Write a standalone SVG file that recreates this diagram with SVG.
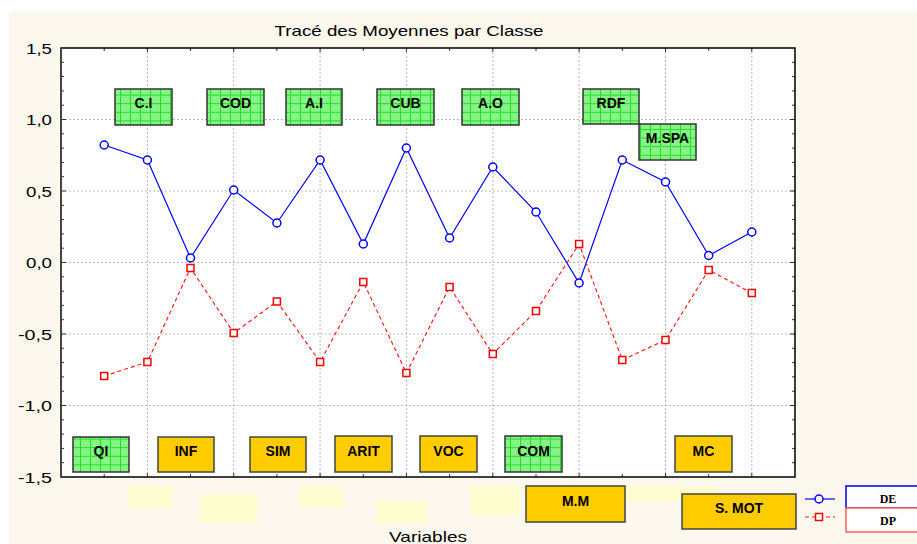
<svg xmlns="http://www.w3.org/2000/svg" width="917" height="544" viewBox="0 0 917 544">
<defs>
<pattern id="gp" x="0" y="0" width="10" height="8.6" patternUnits="userSpaceOnUse">
<rect width="10" height="8.6" fill="#86f386"/>
<rect x="1" y="1" width="1" height="1" fill="#a6f8a6"/>
<rect x="5" y="4" width="1" height="1" fill="#a6f8a6"/>
<path d="M0 0.5H10 M0.5 0V8.6" stroke="#22dd22" stroke-width="1"/>
</pattern>
</defs>
<style>
.ax{stroke:#000;stroke-width:1.5;fill:none}
.tk{stroke:#333;stroke-width:1;fill:none}
.grid{stroke:#b8b8b8;stroke-width:1;stroke-dasharray:2 2;fill:none}
.de{stroke:#0000ff;stroke-width:1.2;fill:none}
.dp{stroke:#ff2020;stroke-width:1.2;stroke-dasharray:4 3;fill:none}
.c{fill:#fff;stroke:#0000ff;stroke-width:1.5}
.s{fill:#fff;stroke:#ff0000;stroke-width:1.5}
.gb{fill:url(#gp);stroke:#333;stroke-width:1.5}
.yb{fill:#ffcc00;stroke:#444;stroke-width:1.5}
.pale{fill:#fdfdcf}
.bt{font-family:"Liberation Sans",Arial,sans-serif;font-weight:bold;font-size:14px;text-anchor:middle;fill:#000}
.yl{font-family:"Liberation Sans",Arial,sans-serif;font-size:14px;text-anchor:end;fill:#000}
.lg{font-family:"Liberation Serif","Times New Roman",serif;font-weight:bold;font-size:12px;text-anchor:middle;fill:#000}
</style>
<rect x="0" y="0" width="917" height="544" fill="#fff"/>
<rect x="9" y="11" width="908" height="533" fill="#fdf8ee"/>
<rect x="61" y="48" width="734" height="429" fill="#fff"/>

<text x="409" y="36" font-family="Liberation Sans, Arial, sans-serif" font-size="15" text-anchor="middle" textLength="269" lengthAdjust="spacingAndGlyphs">Tracé des Moyennes par Classe</text>

<g id="grid">
<path class="grid" d="M61 119.5H795 M61 191H795 M61 262.5H795 M61 334H795 M61 405.5H795"/>
<path class="grid" d="M147.4 48V477 M233.7 48V477 M320.1 48V477 M406.4 48V477 M492.8 48V477 M579.1 48V477 M665.5 48V477 M751.8 48V477"/>
</g>

<g id="ticks">
<path class="tk" d="M61 62.3h3M61 76.6h3M61 90.9h3M61 105.2h3M61 119.5h5M61 133.8h3M61 148.1h3M61 162.4h3M61 176.7h3M61 191h5M61 205.3h3M61 219.6h3M61 233.9h3M61 248.2h3M61 262.5h5M61 276.8h3M61 291.1h3M61 305.4h3M61 319.7h3M61 334h5M61 348.3h3M61 362.6h3M61 376.9h3M61 391.2h3M61 405.5h5M61 419.8h3M61 434.1h3M61 448.4h3M61 462.7h3"/>
<path class="tk" d="M795 62.3h-3M795 76.6h-3M795 90.9h-3M795 105.2h-3M795 119.5h-5M795 133.8h-3M795 148.1h-3M795 162.4h-3M795 176.7h-3M795 191h-5M795 205.3h-3M795 219.6h-3M795 233.9h-3M795 248.2h-3M795 262.5h-5M795 276.8h-3M795 291.1h-3M795 305.4h-3M795 319.7h-3M795 334h-5M795 348.3h-3M795 362.6h-3M795 376.9h-3M795 391.2h-3M795 405.5h-5M795 419.8h-3M795 434.1h-3M795 448.4h-3M795 462.7h-3"/>
<path class="tk" d="M104.2 48v3M147.4 48v4M190.5 48v3M233.7 48v4M276.9 48v3M320.1 48v4M363.3 48v3M406.4 48v4M449.6 48v3M492.8 48v4M536 48v3M579.1 48v4M622.3 48v3M665.5 48v4M708.7 48v3M751.8 48v4"/>
<path class="tk" d="M104.2 477v-3M147.4 477v-4M190.5 477v-3M233.7 477v-4M276.9 477v-3M320.1 477v-4M363.3 477v-3M406.4 477v-4M449.6 477v-3M492.8 477v-4M536 477v-3M579.1 477v-4M622.3 477v-3M665.5 477v-4M708.7 477v-3M751.8 477v-4"/>
</g>
<rect class="ax" x="61" y="48" width="734" height="429"/>
<path d="M61 48V477" stroke="#444" stroke-width="2"/>

<g id="ylabels">
<text class="yl" x="52" y="54" textLength="26" lengthAdjust="spacingAndGlyphs">1,5</text>
<text class="yl" x="52" y="125" textLength="26" lengthAdjust="spacingAndGlyphs">1,0</text>
<text class="yl" x="52" y="197" textLength="26" lengthAdjust="spacingAndGlyphs">0,5</text>
<text class="yl" x="52" y="268" textLength="26" lengthAdjust="spacingAndGlyphs">0,0</text>
<text class="yl" x="52" y="340" textLength="34" lengthAdjust="spacingAndGlyphs">-0,5</text>
<text class="yl" x="52" y="411" textLength="34" lengthAdjust="spacingAndGlyphs">-1,0</text>
<text class="yl" x="52" y="483" textLength="34" lengthAdjust="spacingAndGlyphs">-1,5</text>
</g>

<g id="connectors">
<polyline class="de" points="104.2,145 147.4,160 190.5,258 233.7,190 276.9,223 320.1,160 363.3,244 406.4,148 449.6,238 492.8,167 536,212 579.1,283 622.3,160 665.5,182 708.7,255.5 751.8,232"/>
<polyline class="dp" points="104.2,376 147.4,362 190.5,268 233.7,333 276.9,301.5 320.1,362 363.3,282 406.4,373 449.6,287 492.8,354 536,311 579.1,244 622.3,360 665.5,340 708.7,270 751.8,293"/>
</g>

<g id="markers-DE">
<circle class="c" cx="104.2" cy="145" r="4"/><circle class="c" cx="147.4" cy="160" r="4"/><circle class="c" cx="190.5" cy="258" r="4"/><circle class="c" cx="233.7" cy="190" r="4"/><circle class="c" cx="276.9" cy="223" r="4"/><circle class="c" cx="320.1" cy="160" r="4"/><circle class="c" cx="363.3" cy="244" r="4"/><circle class="c" cx="406.4" cy="148" r="4"/><circle class="c" cx="449.6" cy="238" r="4"/><circle class="c" cx="492.8" cy="167" r="4"/><circle class="c" cx="536" cy="212" r="4"/><circle class="c" cx="579.1" cy="283" r="4"/><circle class="c" cx="622.3" cy="160" r="4"/><circle class="c" cx="665.5" cy="182" r="4"/><circle class="c" cx="708.7" cy="255.5" r="4"/><circle class="c" cx="751.8" cy="232" r="4"/>
</g>
<g id="markers-DP">
<rect class="s" x="100.7" y="372.5" width="7" height="7"/><rect class="s" x="143.9" y="358.5" width="7" height="7"/><rect class="s" x="187" y="264.5" width="7" height="7"/><rect class="s" x="230.2" y="329.5" width="7" height="7"/><rect class="s" x="273.4" y="298" width="7" height="7"/><rect class="s" x="316.6" y="358.5" width="7" height="7"/><rect class="s" x="359.8" y="278.5" width="7" height="7"/><rect class="s" x="402.9" y="369.5" width="7" height="7"/><rect class="s" x="446.1" y="283.5" width="7" height="7"/><rect class="s" x="489.3" y="350.5" width="7" height="7"/><rect class="s" x="532.5" y="307.5" width="7" height="7"/><rect class="s" x="575.6" y="240.5" width="7" height="7"/><rect class="s" x="618.8" y="356.5" width="7" height="7"/><rect class="s" x="662" y="336.5" width="7" height="7"/><rect class="s" x="705.2" y="266.5" width="7" height="7"/><rect class="s" x="748.3" y="289.5" width="7" height="7"/>
</g>

<g id="pale">
<rect class="pale" x="129" y="486" width="43" height="22"/>
<rect class="pale" x="200" y="494" width="57" height="29"/>
<rect class="pale" x="300" y="486" width="43" height="21"/>
<rect class="pale" x="377" y="501" width="50" height="22"/>
<rect class="pale" x="470" y="486" width="50" height="29"/>
<rect class="pale" x="620" y="486" width="98" height="15"/>
</g>

<g id="node-CI"><rect class="gb" x="115" y="89" width="57" height="36"/><text class="bt" x="143.5" y="108">C.I</text></g>
<g id="node-COD"><rect class="gb" x="207" y="89" width="57" height="36"/><text class="bt" x="235.5" y="108">COD</text></g>
<g id="node-AI"><rect class="gb" x="286" y="89" width="56" height="36"/><text class="bt" x="314" y="108">A.I</text></g>
<g id="node-CUB"><rect class="gb" x="377" y="89" width="57" height="36"/><text class="bt" x="405.5" y="108">CUB</text></g>
<g id="node-AO"><rect class="gb" x="462" y="89" width="57" height="36"/><text class="bt" x="490.5" y="108">A.O</text></g>
<g id="node-RDF"><rect class="gb" x="583" y="89" width="56" height="35"/><text class="bt" x="611" y="108">RDF</text></g>
<g id="node-MSPA"><rect class="gb" x="639" y="124" width="57" height="36"/><text class="bt" x="667.5" y="143">M.SPA</text></g>

<g id="node-QI"><rect class="gb" x="73" y="437" width="56" height="35"/><text class="bt" x="101" y="456">QI</text></g>
<g id="node-INF"><rect class="yb" x="158" y="437" width="56" height="35"/><text class="bt" x="186" y="456">INF</text></g>
<g id="node-SIM"><rect class="yb" x="250" y="437" width="56" height="35"/><text class="bt" x="278" y="456">SIM</text></g>
<g id="node-ARIT"><rect class="yb" x="335" y="436" width="57" height="36"/><text class="bt" x="363.5" y="456">ARIT</text></g>
<g id="node-VOC"><rect class="yb" x="420" y="436" width="57" height="36"/><text class="bt" x="448.5" y="456">VOC</text></g>
<g id="node-COM"><rect class="gb" x="505" y="436" width="57" height="36"/><text class="bt" x="533.5" y="456">COM</text></g>
<g id="node-MC"><rect class="yb" x="675" y="436" width="57" height="36"/><text class="bt" x="703.5" y="456">MC</text></g>
<g id="node-MM"><rect class="yb" x="526" y="486" width="99" height="36"/><text class="bt" x="575.5" y="506">M.M</text></g>
<g id="node-SMOT"><rect class="yb" x="682" y="494" width="114" height="35"/><text class="bt" x="739" y="513">S. MOT</text></g>

<text x="428" y="542" font-family="Liberation Sans, Arial, sans-serif" font-size="15" text-anchor="middle" textLength="78" lengthAdjust="spacingAndGlyphs">Variables</text>

<g id="legend">
<path d="M805 499H835" stroke="#0000ff" stroke-width="1.2"/>
<circle class="c" cx="819" cy="499" r="4"/>
<path d="M805 517H835" stroke="#ff2020" stroke-width="1.2" stroke-dasharray="4 3"/>
<rect class="s" x="815.5" y="513.5" width="7" height="7"/>
<rect x="846" y="486" width="80" height="22" fill="#fff" stroke="#0000ff" stroke-width="1.5"/>
<rect x="846" y="508" width="80" height="24" fill="#fff" stroke="#ff6060" stroke-width="1.5"/>
<text class="lg" x="888" y="503">DE</text>
<text class="lg" x="888" y="525">DP</text>
</g>
</svg>
